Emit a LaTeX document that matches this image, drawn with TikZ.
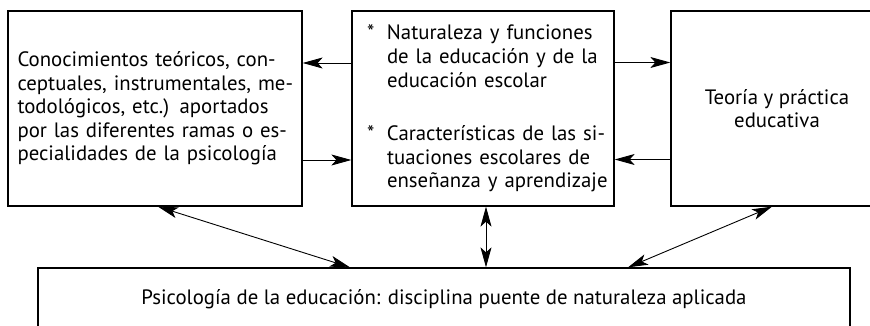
\documentclass[tikz,border=0pt]{standalone}
\usepackage{fontspec}
\setmainfont{PT Sans}
\usetikzlibrary{arrows.meta}
\newcommand\jl[2]{\makebox[#1][s]{#2}}
\newcommand\mi[1]{\hspace*{31pt}\makebox[223pt][s]{#1}}
\newcommand\mn[1]{\hspace*{31pt}#1}
\newcommand\ms[1]{\makebox[31pt][l]{\hspace*{11pt}*}\makebox[223pt][s]{#1}}
\tikzset{
  box/.style={draw, line width=1.3pt, inner sep=0pt, font=\fontsize{20.8}{23.5}\selectfont},
  arr/.style={line width=0.9pt, -{Stealth[length=20pt,width=11pt,inset=5pt]}},
  dbl/.style={line width=0.9pt, {Stealth[length=20pt,width=11pt,inset=5pt]}-{Stealth[length=20pt,width=11pt,inset=5pt]}},
}
\begin{document}
\begin{tikzpicture}[x=1pt,y=-1pt]
\useasboundingbox (0,0) rectangle (870,326);
\node[box, minimum width=294pt, minimum height=195pt, text width=275pt, align=left] (L) at (155,108.5)
 {\jl{275pt}{Conocimientos teóricos, con-}\\
  \jl{275pt}{ceptuales, instrumentales, me-}\\
  \jl{275pt}{todológicos, etc.) aportados}\\
  \jl{275pt}{por las diferentes ramas o es-}\\
  \jl{264pt}{pecialidades de la psicología}};
\node[box, minimum width=262pt, minimum height=195pt, text width=254pt, align=left] (M) at (483,108.5)
 {\ms{Naturaleza y funciones}\\[0.5pt]
  \mi{de la educación y de la}\\[0.5pt]
  \mn{educación escolar}\\[29.5pt]
  \ms{Características de las si-}\\
  \mi{tuaciones escolares de}\\
  \mi{enseñanza y aprendizaje}};
\node[box, minimum width=212pt, minimum height=195pt, align=center] (R) at (777,108.5)
 {Teoría y práctica\\educativa};
\node[box, minimum width=812pt, minimum height=62pt] (B) at (444,299)
 {Psicología de la educación: disciplina puente de naturaleza aplicada};
\draw[arr] ([yshift=45.5pt]M.west) -- ([yshift=45.5pt]L.east);
\draw[arr] ([yshift=-51.5pt]L.east) -- ([yshift=-51.5pt]M.west);
\draw[arr] ([yshift=46pt]M.east) -- ([yshift=46pt]R.west);
\draw[arr] ([yshift=-51pt]R.west) -- ([yshift=-51pt]M.east);
\draw[dbl] ([xshift=3pt]L.south) -- ([xshift=-94pt]B.north);
\draw[dbl] ([xshift=3pt]M.south) -- ([xshift=42pt]B.north);
\draw[dbl] ([xshift=-5pt]R.south) -- ([xshift=184pt]B.north);
\end{tikzpicture}
\end{document}
